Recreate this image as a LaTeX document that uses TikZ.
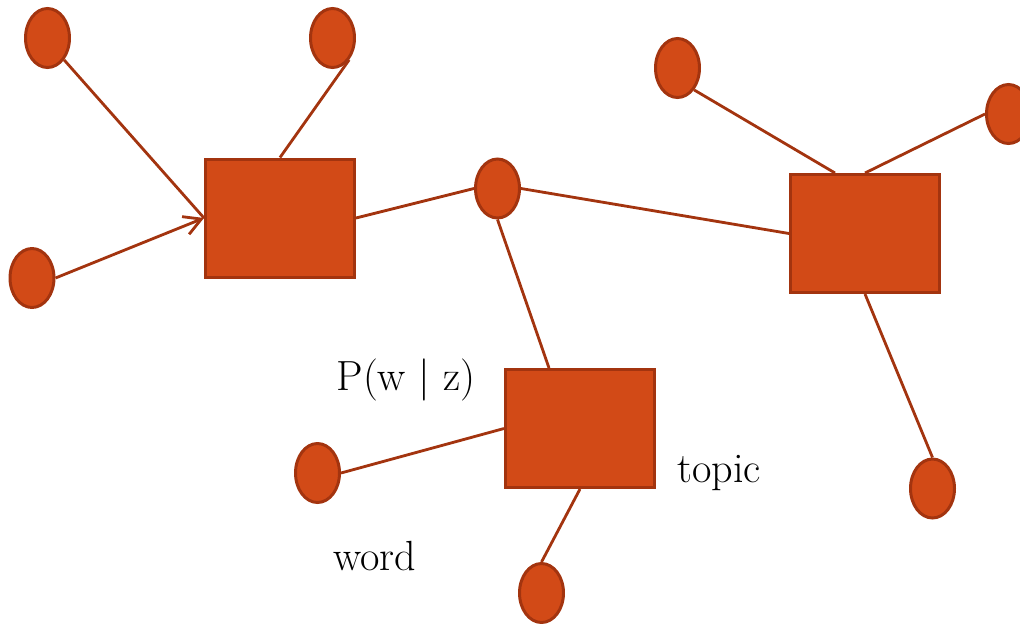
\documentclass[tikz,border=0pt]{standalone}
\usepackage{xcolor}
\usepackage{tikz}
\definecolor{rust}{HTML}{D24A17}
\definecolor{rustdark}{HTML}{A3340F}
\usetikzlibrary{shapes.geometric, arrows.meta, positioning, calc}

\begin{document}
\begin{tikzpicture}[
    wordnode/.style={draw=rustdark, fill=rust, ellipse, line width=1.7pt, minimum width=0.88cm, minimum height=1.18cm, inner sep=0pt},
    topicnode/.style={draw=rustdark, fill=rust, rectangle, line width=1.7pt, minimum width=2.98cm, minimum height=2.36cm, inner sep=0pt},
    link/.style={draw=rustdark, line width=1.6pt},
    txt/.style={anchor=base, inner sep=0pt, font=\fontsize{24}{28}\selectfont}
]
    \useasboundingbox (0,0) rectangle (20.4,-12.46);

    % topics
    \node[topicnode] (topic1) at (5.60,-4.36) {};
    \node[topicnode] (topic2) at (17.30,-4.67) {};
    \node[topicnode] (topic3) at (11.60,-8.57) {};

    % words
    \node[wordnode] (word1) at (0.95,-0.76) {};
    \node[wordnode] (word2) at (6.65,-0.76) {};
    \node[wordnode] (word3) at (0.64,-5.56) {};
    \node[wordnode] (word4) at (9.95,-3.77) {};
    \node[wordnode] (word5) at (13.55,-1.36) {};
    \node[wordnode] (word6) at (20.17,-2.28) {};
    \node[wordnode] (word7) at (6.35,-9.46) {};
    \node[wordnode] (word8) at (10.83,-11.86) {};
    \node[wordnode] (word9) at (18.65,-9.77) {};

    % edges
    \draw[link] (word1.south east) -- (topic1.west);
    \draw[link, -{Straight Barb[length=3.4mm,width=3.8mm]}] (word3.east) -- (topic1.west);
    \draw[link] (topic1.north) -- (word2.south east);
    \draw[link] (topic1.east) -- (word4.west);
    \draw[link] (word4.east) -- (topic2.west);
    \draw[link] (word4.south) -- ([xshift=-6.2mm]topic3.north);
    \draw[link] (word5.south east) -- ([xshift=-6mm]topic2.north);
    \draw[link] (topic2.north) -- (word6.west);
    \draw[link] (topic2.south) -- (word9.north);
    \draw[link] (word7.east) -- (topic3.west);
    \draw[link] (topic3.south) -- (word8.north);

    % labels
    \node[txt] (pwz) at (8.12,-7.8) {P(w | z)};
    \node[txt] (topiclabel) at (14.38,-9.64) {topic};
    \node[txt] (wordlabel) at (7.5,-11.4) {word};
\end{tikzpicture}
\end{document}
